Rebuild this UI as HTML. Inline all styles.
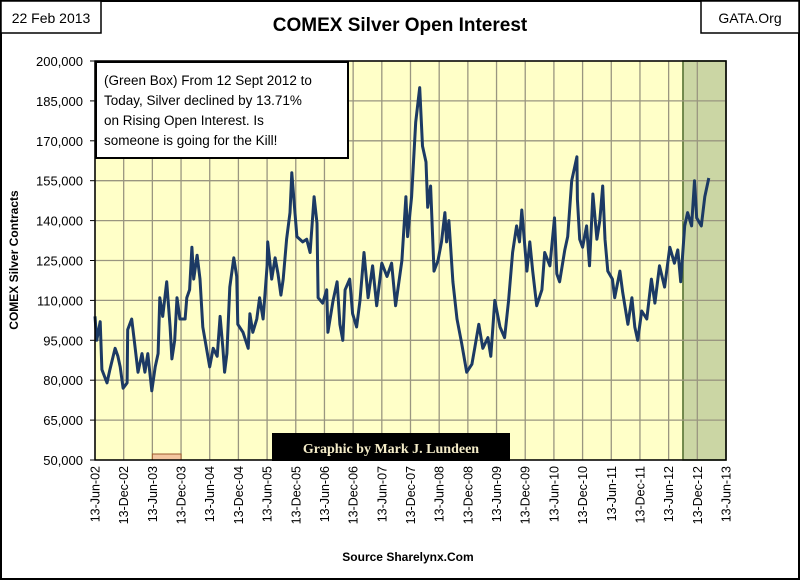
<!DOCTYPE html>
<html><head><meta charset="utf-8"><style>
html,body{margin:0;padding:0;background:#fff;}
svg{display:block;font-family:"Liberation Sans",sans-serif;}
</style></head><body>
<svg id="chart" width="800" height="580" viewBox="0 0 800 580" xmlns="http://www.w3.org/2000/svg">
<rect x="1" y="1" width="798" height="578" fill="#fff" stroke="#000" stroke-width="2"/>
<rect x="1" y="1" width="100" height="32" fill="#fff" stroke="#000" stroke-width="1.5"/>
<text x="51" y="23" font-size="14" text-anchor="middle">22 Feb 2013</text>
<rect x="701" y="1" width="98" height="32" fill="#fff" stroke="#000" stroke-width="1.5"/>
<text x="750" y="23" font-size="14" text-anchor="middle">GATA.Org</text>
<text x="400" y="31" font-size="19" font-weight="bold" text-anchor="middle">COMEX Silver Open Interest</text>
<text transform="translate(18,260) rotate(-90)" font-size="12" font-weight="bold" text-anchor="middle">COMEX Silver Contracts</text>
<text x="408" y="561" font-size="12" font-weight="bold" text-anchor="middle">Source Sharelynx.Com</text>
<g id="plot"></g>
</svg>
<script>
const tickYears = [2002.45,2002.95,2003.45,2003.95,2004.45,2004.95,2005.45,2005.95,2006.45,2006.95,2007.45,2007.95,2008.45,2008.95,2009.45,2009.95,2010.45,2010.95,2011.45,2011.95,2012.45,2012.95,2013.45];
const tickLabels = ["13-Jun-02","13-Dec-02","13-Jun-03","13-Dec-03","13-Jun-04","13-Dec-04","13-Jun-05","13-Dec-05","13-Jun-06","13-Dec-06","13-Jun-07","13-Dec-07","13-Jun-08","13-Dec-08","13-Jun-09","13-Dec-09","13-Jun-10","13-Dec-10","13-Jun-11","13-Dec-11","13-Jun-12","13-Dec-12","13-Jun-13"];
const yTicks = [50000,65000,80000,95000,110000,125000,140000,155000,170000,185000,200000];
const dates = [2002.45,2002.48,2002.54,2002.57,2002.66,2002.71,2002.80,2002.85,2002.89,2002.94,2003.01,2003.02,2003.09,2003.15,2003.20,2003.27,2003.32,2003.37,2003.44,2003.50,2003.55,2003.58,2003.63,2003.70,2003.76,2003.79,2003.84,2003.88,2003.93,2004.02,2004.05,2004.10,2004.14,2004.17,2004.23,2004.28,2004.33,2004.45,2004.51,2004.58,2004.63,2004.68,2004.71,2004.75,2004.80,2004.87,2004.92,2004.94,2005.03,2005.12,2005.15,2005.20,2005.27,2005.32,2005.38,2005.45,2005.46,2005.53,2005.59,2005.64,2005.69,2005.73,2005.79,2005.85,2005.88,2005.92,2005.97,2006.07,2006.14,2006.20,2006.27,2006.32,2006.34,2006.42,2006.49,2006.51,2006.60,2006.67,2006.72,2006.77,2006.81,2006.89,2006.94,2007.01,2007.07,2007.14,2007.21,2007.29,2007.36,2007.45,2007.54,2007.62,2007.69,2007.80,2007.87,2007.90,2007.97,2008.04,2008.11,2008.16,2008.22,2008.25,2008.30,2008.36,2008.43,2008.49,2008.55,2008.58,2008.62,2008.69,2008.76,2008.84,2008.93,2009.02,2009.07,2009.14,2009.21,2009.30,2009.35,2009.42,2009.51,2009.59,2009.66,2009.73,2009.80,2009.85,2009.89,2009.98,2010.03,2010.08,2010.15,2010.24,2010.29,2010.38,2010.46,2010.50,2010.55,2010.64,2010.69,2010.76,2010.85,2010.86,2010.90,2010.95,2011.02,2011.07,2011.13,2011.20,2011.25,2011.30,2011.34,2011.39,2011.47,2011.51,2011.60,2011.65,2011.74,2011.81,2011.86,2011.91,2011.98,2012.07,2012.15,2012.21,2012.29,2012.38,2012.47,2012.55,2012.61,2012.66,2012.73,2012.78,2012.85,2012.90,2012.94,2013.02,2013.08,2013.15];
const openInterest = [104,95,102,84,79,84,92,89,85,77,79,99,103,92,83,90,83,90,76,85,90,111,104,117,100,88,95,111,103,103,111,114,130,118,127,118,100,85,92,89,104,92,83,90,115,126,119,101,98,92,105,98,103,111,103,123,132,118,126,120,112,118,133,143,158,147,134,132,133,128,149,139,111,109,114,98,110,117,101,95,114,118,105,100,110,128,111,123,108,124,119,124,108,125,149,134,149,177,190,168,162,145,153,121,125,132,143,132,140,117,103,94,83,86,92,101,92,96,89,110,100,96,110,128,138,132,144,121,132,121,108,114,128,123,141,120,117,129,134,155,164,148,133,130,138,123,150,133,140,153,133,121,118,111,121,113,101,111,100,95,106,103,118,109,123,115,130,124,129,117,138,143,138,155,141,138,149,156];
const greenStart = 2012.70, greenEnd = 2013.45;
const orangeStart = 2003.45, orangeEnd = 2003.95;

const NS = "http://www.w3.org/2000/svg";
const L = 95, R = 726, T = 61, B = 460;
const x0 = 2002.45, x1 = 2013.45, y0 = 50000, y1 = 200000;
function xs(t){ return L + (t - x0) / (x1 - x0) * (R - L); }
function ys(v){ return B - (v - y0) / (y1 - y0) * (B - T); }
const g = document.getElementById('plot');
function mk(tag, attrs){ const e = document.createElementNS(NS, tag); for (const k in attrs) e.setAttribute(k, attrs[k]); g.appendChild(e); return e; }

const bg = mk('rect', {x:L, y:T, width:R-L, height:B-T, fill:'#ffffc8'});



const gr = mk('rect', {x:xs(greenStart), y:T, width:xs(greenEnd)-xs(greenStart), height:B-T, fill:'#cbd6a4', stroke:'#4d6b2b', 'stroke-width':1.5});



yTicks.forEach(v => {
  const ln = mk('line', {x1:L, x2:R, y1:ys(v), y2:ys(v), stroke:'#9a9680', 'stroke-width':1.3});
  
  
  const tx = mk('text', {x:83, y:ys(v)+5, 'font-size':13, 'text-anchor':'end', fill:'#000'});
  tx.textContent = v.toLocaleString('en-US');
  
  
  const tk = mk('line', {x1:L-5, x2:L, y1:ys(v), y2:ys(v), stroke:'#000'});
  
  
});
tickYears.forEach((t, i) => {
  const ln = mk('line', {x1:xs(t), x2:xs(t), y1:T, y2:B, stroke:'#9a9680', 'stroke-width':1.3});
  
  
  const tx = mk('text', {transform:`translate(${xs(t)+4.5},466) rotate(-90)`, 'font-size':12.5, 'text-anchor':'end', fill:'#000'});
  tx.textContent = tickLabels[i];
  
  
});

const or = mk('rect', {x:xs(orangeStart), y:454, width:xs(orangeEnd)-xs(orangeStart), height:6, fill:'#f3c6a0', stroke:'#9c5b2e', 'stroke-width':1});



let d = '';
dates.forEach((t, i) => { d += (i ? 'L' : 'M') + xs(t).toFixed(1) + ',' + ys(openInterest[i]*1000).toFixed(1); });
const line = mk('path', {d:d, fill:'none', stroke:'#1c3a64', 'stroke-width':3, 'stroke-linejoin':'round'});



const fr = mk('rect', {x:L, y:T, width:R-L, height:B-T, fill:'none', stroke:'#000', 'stroke-width':1.5});



const ab = mk('rect', {x:96, y:62, width:252, height:96, fill:'#fff', stroke:'#000', 'stroke-width':2});


["(Green Box) From 12 Sept 2012 to","Today, Silver declined by 13.71%","on Rising Open Interest.  Is","someone is going for the Kill!"].forEach((s, i) => {
  const tx = mk('text', {x:104, y:85+i*20, 'font-size':13.5, fill:'#000', 'xml:space':'preserve'});
  tx.textContent = s;
  
  
});

const cb = mk('rect', {x:272, y:433, width:238, height:28, fill:'#000'});


const ct = mk('text', {x:391, y:453, 'font-size':14, 'font-weight':'bold', 'text-anchor':'middle', fill:'#f4ecc8', 'font-family':'"Liberation Serif", serif'});
ct.textContent = 'Graphic by Mark J. Lundeen';


</script>
</body></html>
